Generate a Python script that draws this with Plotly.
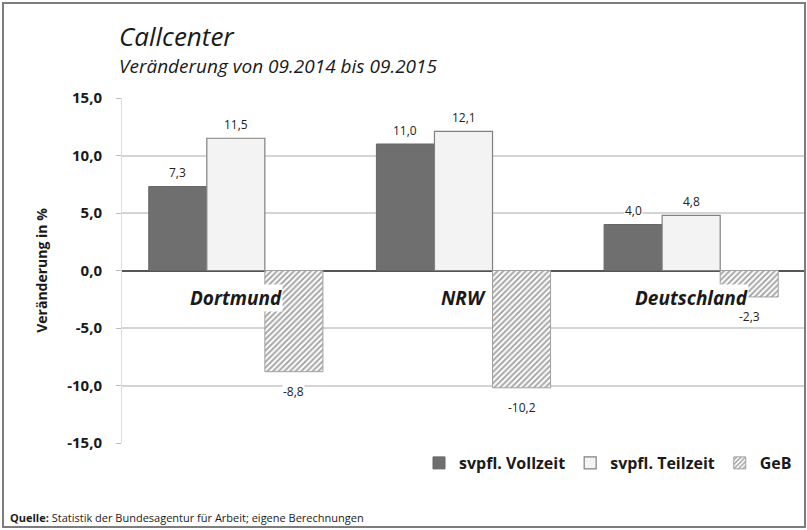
import plotly.graph_objects as go

# ---- data ----
categories = ["Dortmund", "NRW", "Deutschland"]
series_names = ["svpfl. Vollzeit", "svpfl. Teilzeit", "GeB"]
vollzeit = [7.3, 11.0, 4.0]
teilzeit = [11.5, 12.1, 4.8]
geb = [-8.8, -10.2, -2.3]
tick_vals = [-15, -10, -5, 0, 5, 10, 15]
tick_text = ["-15,0", "-10,0", "-5,0", "0,0", "5,0", "10,0", "15,0"]

W, H = 807, 530
ML, MR, MT, MB = 122, 2, 98, 87
PW = W - ML - MR
PH = H - MT - MB

def px_x(x):
    return (x - ML) / PW

def px_y(y):
    return (H - MB - y) / PH

FONT = "Open Sans"

def fmt(v):
    return f"{v:.1f}".replace(".", ",")

fig = go.Figure()
fig.add_trace(go.Bar(
    x=categories, y=vollzeit, name=series_names[0],
    marker=dict(color="#6f6f6f", line=dict(color="#666666", width=1)),
))
fig.add_trace(go.Bar(
    x=categories, y=teilzeit, name=series_names[1],
    marker=dict(color="#f3f3f3", line=dict(color="#808080", width=1.2)),
))
fig.add_trace(go.Bar(
    x=categories, y=geb, name=series_names[2],
    marker=dict(color="white", line=dict(color="#a0a0a0", width=1),
                pattern=dict(shape="/", fgcolor="#505050", bgcolor="white",
                             size=4, solidity=0.5)),
))

annotations = []
for i, c in enumerate(categories):
    annotations.append(dict(
        x=i, y=-2.35, xref="x", yref="y", text=f"<b><i>{c}</i></b>",
        showarrow=False, bgcolor="white", borderpad=0,
        font=dict(family=FONT, size=19, color="#1a1a1a"),
    ))
bw = 0.255
for series, off in ((vollzeit, -bw), (teilzeit, 0.0), (geb, bw)):
    for i, v in enumerate(series):
        annotations.append(dict(
            x=i + off, y=v, xref="x", yref="y", text=fmt(v), showarrow=False,
            yshift=14 if v >= 0 else -20, bgcolor="white", borderpad=0,
            font=dict(family=FONT, size=12, color="#222"),
        ))
annotations += [
    dict(x=px_x(117), y=px_y(36), xref="paper", yref="paper", xanchor="left",
         yanchor="middle", text="<i>Callcenter</i>", showarrow=False,
         font=dict(family=FONT, size=26, color="#1a1a1a")),
    dict(x=px_x(117), y=px_y(66), xref="paper", yref="paper", xanchor="left",
         yanchor="middle", text="<i>Veränderung von 09.2014 bis 09.2015</i>",
         showarrow=False, font=dict(family=FONT, size=19, color="#1a1a1a")),
    dict(x=px_x(8), y=px_y(517), xref="paper", yref="paper", xanchor="left",
         yanchor="middle",
         text="<b>Quelle:</b> Statistik der Bundesagentur für Arbeit; eigene Berechnungen",
         showarrow=False, font=dict(family=FONT, size=11, color="#1a1a1a")),
]

fig.update_layout(
    width=W, height=H,
    margin=dict(l=ML, r=MR, t=MT, b=MB),
    paper_bgcolor="white", plot_bgcolor="white",
    barmode="group", bargap=0.235, bargroupgap=0,
    font=dict(family=FONT, color="#1a1a1a"),
    showlegend=True,
    legend=dict(orientation="h", x=px_x(797), y=px_y(463), xanchor="right",
                yanchor="middle", font=dict(family=FONT, size=16, color="#1a1a1a",
                                            weight="bold"),
                itemwidth=30, bgcolor="rgba(0,0,0,0)"),
    annotations=annotations,
    xaxis=dict(showticklabels=False, showgrid=False, zeroline=False,
               showline=False, ticks="", range=[-0.5, 2.5]),
    yaxis=dict(range=[-15, 15], tickvals=tick_vals, ticktext=tick_text,
               showgrid=True, gridcolor="#d4d4d4", gridwidth=1.5,
               zeroline=True, zerolinecolor="#555555", zerolinewidth=2,
               showline=True, linecolor="#dddddd", linewidth=1,
               ticks="outside", ticklen=5, tickcolor="#bbbbbb",
               ticklabelstandoff=11,
               tickfont=dict(family=FONT, size=15, color="#1a1a1a", weight="bold"),
               title=dict(text="<b>Veränderung in %</b>", standoff=16,
                          font=dict(family=FONT, size=14, color="#1a1a1a"))),
    shapes=[dict(type="rect", xref="paper", yref="paper",
                 x0=px_x(3), x1=px_x(805), y0=px_y(527), y1=px_y(3),
                 line=dict(color="#7d7d7d", width=2), layer="above")],
)

fig.write_html("out.html", config={"displayModeBar": False},
               post_script="document.body.style.margin='0';document.body.style.overflow='hidden';")
